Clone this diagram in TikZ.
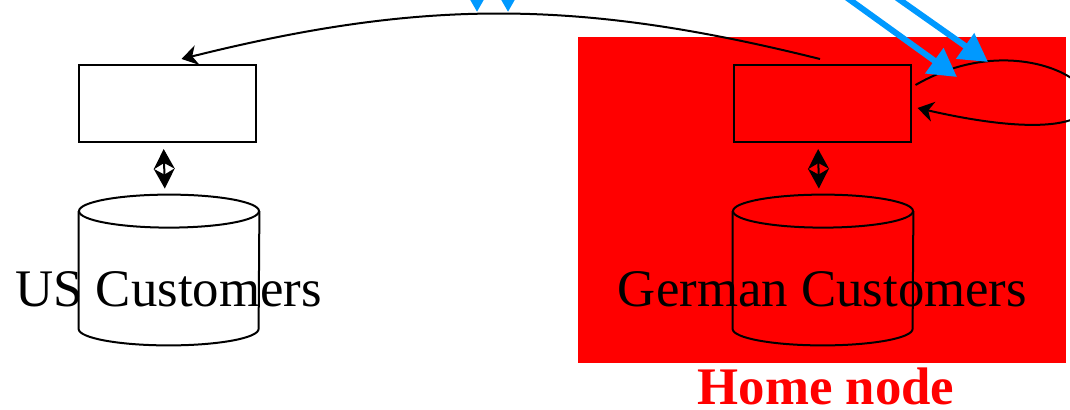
\documentclass[tikz,border=0pt]{standalone}
\usepackage{fontspec}
\setmainfont{Liberation Serif}
\usetikzlibrary{arrows.meta}
\definecolor{homeRed}{HTML}{FF0000}
\definecolor{msgBlue}{HTML}{0099FF}
% cylinder outline around a database node
\newcommand{\drawdb}[1]{%
  \draw[line width=1pt] ([yshift=-8.25pt]#1.north) ellipse [x radius=45pt, y radius=8.25pt];
  \draw[line width=1pt] ([yshift=-8.25pt]#1.north west) -- ([yshift=8.25pt]#1.south west)
    arc[start angle=180, end angle=360, x radius=45pt, y radius=8.25pt] -- ([yshift=-8.25pt]#1.north east);
}

\begin{document}
\begin{tikzpicture}[x=0.5pt, y=0.5pt, font=\fontsize{26.4}{30}\selectfont,
  appbox/.style={draw, line width=1pt, minimum width=88.5pt, minimum height=38.5pt, inner sep=0pt},
  dbarea/.style={minimum width=90pt, minimum height=75pt, inner sep=0pt},
  link/.style={line width=1pt, -{Stealth[length=8pt,width=10pt,inset=2.5pt]}},
  dblink/.style={line width=1pt, {Stealth[length=10pt,width=10.5pt,inset=3pt]}-{Stealth[length=10pt,width=10.5pt,inset=3pt]},
                 shorten >=3pt, shorten <=3pt},
  msg/.style={draw=msgBlue, line width=3pt, -{Triangle[length=14pt,width=15pt]}},
]
  \useasboundingbox (0,0) rectangle (1070,-409);
  \clip (0,0) rectangle (1070,-409);
  % home node area
  \fill[homeRed] (578,-37) rectangle (1066,-363);
  \node[text=homeRed, font=\fontsize{26.4}{30}\selectfont\bfseries, anchor=base, inner sep=0pt] (home) at (826,-404) {Home node};

  \node[appbox] (usapp) at (167.5,-103.5) {};
  \node[appbox] (deapp) at (822,-103.5) {};
  \node[dbarea] (usdb) at (169,-270) {};
  \node[dbarea] (dedb) at (823,-270) {};
  \drawdb{usdb}
  \drawdb{dedb}
  \node[anchor=base] (uslbl) at (168.5,-306) {US Customers};
  \node[anchor=base] (delbl) at (822.5,-306) {German Customers};

  \draw[dblink] ([xshift=-2pt]usapp.south) -- ([xshift=-2pt]usdb.north);
  \draw[dblink] ([xshift=-2pt]deapp.south) -- ([xshift=-2pt]dedb.north);

  \draw[link] ([xshift=-1pt,yshift=2.5pt]deapp.north) to[bend right=14] ([xshift=7pt,yshift=2.5pt]usapp.north);
  \draw[link] ([xshift=2pt,yshift=9.25pt]deapp.east) .. controls (1066,2) and (1210,-175) .. ([xshift=3pt,yshift=-2.25pt]deapp.east);

  % incoming messages
  \coordinate (m1s) at (477,80);   \coordinate (m1e) at (477,-12);
  \coordinate (m2s) at (508,80);   \coordinate (m2e) at (508,-12);
  \coordinate (m3s) at (796,39);   \coordinate (m3e) at (957,-77);
  \coordinate (m4s) at (856,31);   \coordinate (m4e) at (988,-62);
  \draw[msg] (m1s) -- (m1e);
  \draw[msg] (m2s) -- (m2e);
  \draw[msg] (m3s) -- (m3e);
  \draw[msg] (m4s) -- (m4e);
\end{tikzpicture}
\end{document}
